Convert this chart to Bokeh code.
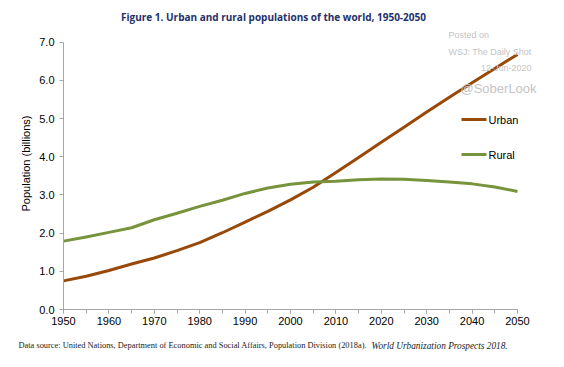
import math
from bokeh.plotting import figure
from bokeh.models import Label, SingleIntervalTicker, Range1d, PrintfTickFormatter
from bokeh.embed import file_html
from bokeh.resources import INLINE

years = [1950, 1955, 1960, 1965, 1970, 1975, 1980, 1985, 1990, 1995, 2000,
         2005, 2010, 2015, 2020, 2025, 2030, 2035, 2040, 2045, 2050]
urban = [0.75, 0.87, 1.02, 1.19, 1.35, 1.54, 1.75, 2.01, 2.29, 2.57, 2.87,
         3.20, 3.59, 3.98, 4.38, 4.77, 5.17, 5.56, 5.94, 6.31, 6.68]
rural = [1.79, 1.90, 2.02, 2.14, 2.35, 2.52, 2.70, 2.86, 3.04, 3.18, 3.28,
         3.34, 3.36, 3.40, 3.42, 3.41, 3.38, 3.34, 3.29, 3.21, 3.09]
series_names = ["Urban", "Rural"]
title_text = "Figure 1. Urban and rural populations of the world, 1950-2050"
ylabel_text = "Population (billions)"
source_text = "Data source: United Nations, Department of Economic and Social Affairs, Population Division (2018a)."
source_italic = "World Urbanization Prospects 2018."
watermark = ["Posted on", "WSJ: The Daily Shot", "12-Jun-2020", "@SoberLook"]

URBAN_C = "#984807"
RURAL_C = "#77933C"

W, H = 548, 351


# image pixel -> data coordinate helpers (1950 at x=63, 2050 at x=517; 0 at y=309, 7 at y=41.7)
def dx(px):
    return 1950 + (px - 63) * 100 / 454.0


def dy(py):
    return (309 - py) * 7 / 267.3


p = figure(width=W, height=H, output_backend="svg", toolbar_location=None,
           x_range=Range1d(dx(0), dx(W)), y_range=Range1d(dy(H), dy(0)),
           min_border=0)
p.outline_line_color = None
p.grid.visible = False
p.background_fill_color = "white"
p.border_fill_color = "white"

p.line(years, urban, line_color=URBAN_C, line_width=3, line_join="round")
p.line(years, rural, line_color=RURAL_C, line_width=3, line_join="round")

for ax in (p.xaxis[0], p.yaxis[0]):
    ax.axis_line_color = "#A6A6A6"
    ax.major_tick_line_color = "#A6A6A6"
    ax.minor_tick_line_color = "#A6A6A6"
    ax.major_tick_in = 0
    ax.major_tick_out = 4
    ax.minor_tick_in = 0
    ax.minor_tick_out = 4
    ax.major_label_text_font = "Liberation Sans"
    ax.major_label_text_font_size = "11px"
    ax.major_label_text_color = "black"

p.xaxis[0].ticker = SingleIntervalTicker(interval=10, num_minor_ticks=2)
p.yaxis[0].ticker = SingleIntervalTicker(interval=1, num_minor_ticks=0)
p.yaxis[0].formatter = PrintfTickFormatter(format="%.1f")
p.xaxis[0].major_label_standoff = 3
p.yaxis[0].major_label_standoff = 5
p.xaxis[0].fixed_location = 0
p.yaxis[0].fixed_location = 1950
p.xaxis[0].bounds = (1950, 2050)
p.yaxis[0].bounds = (0, 7)


def lab(x, y, text, font="Liberation Sans", size="9px", color="black",
        align="left", style="normal", angle=0.0):
    p.add_layout(Label(x=x, y=y, text=text, text_align=align, angle=angle,
                       text_baseline="middle", text_font=font,
                       text_font_style=style, text_font_size=size,
                       text_color=color))


lab(dx(273), dy(16), title_text, font="Open Sans", size="10px",
    color="#22306B", align="center", style="bold")
lab(dx(25), dy(163), ylabel_text, size="11px", align="center", angle=math.pi / 2)

lab(dx(18), dy(345), source_text, font="Liberation Serif", size="8.4px", color="#222222")
lab(dx(371), dy(345), source_italic, font="Liberation Serif", size="9.3px",
    color="#222222", style="italic")

wm_c = "#C4C4C4"
lab(dx(448), dy(34), watermark[0], color=wm_c)
lab(dx(448), dy(51), watermark[1], color=wm_c)
lab(dx(531), dy(67), watermark[2], color=wm_c, align="right")
lab(dx(460), dy(88), watermark[3], color=wm_c, size="13px")

for name, col, py in ((series_names[0], URBAN_C, 119), (series_names[1], RURAL_C, 154)):
    p.line([dx(461), dx(486)], [dy(py), dy(py)], line_color=col, line_width=3)
    lab(dx(488), dy(py), name, size="11px")

open("out.html", "w").write(file_html(p, INLINE))
